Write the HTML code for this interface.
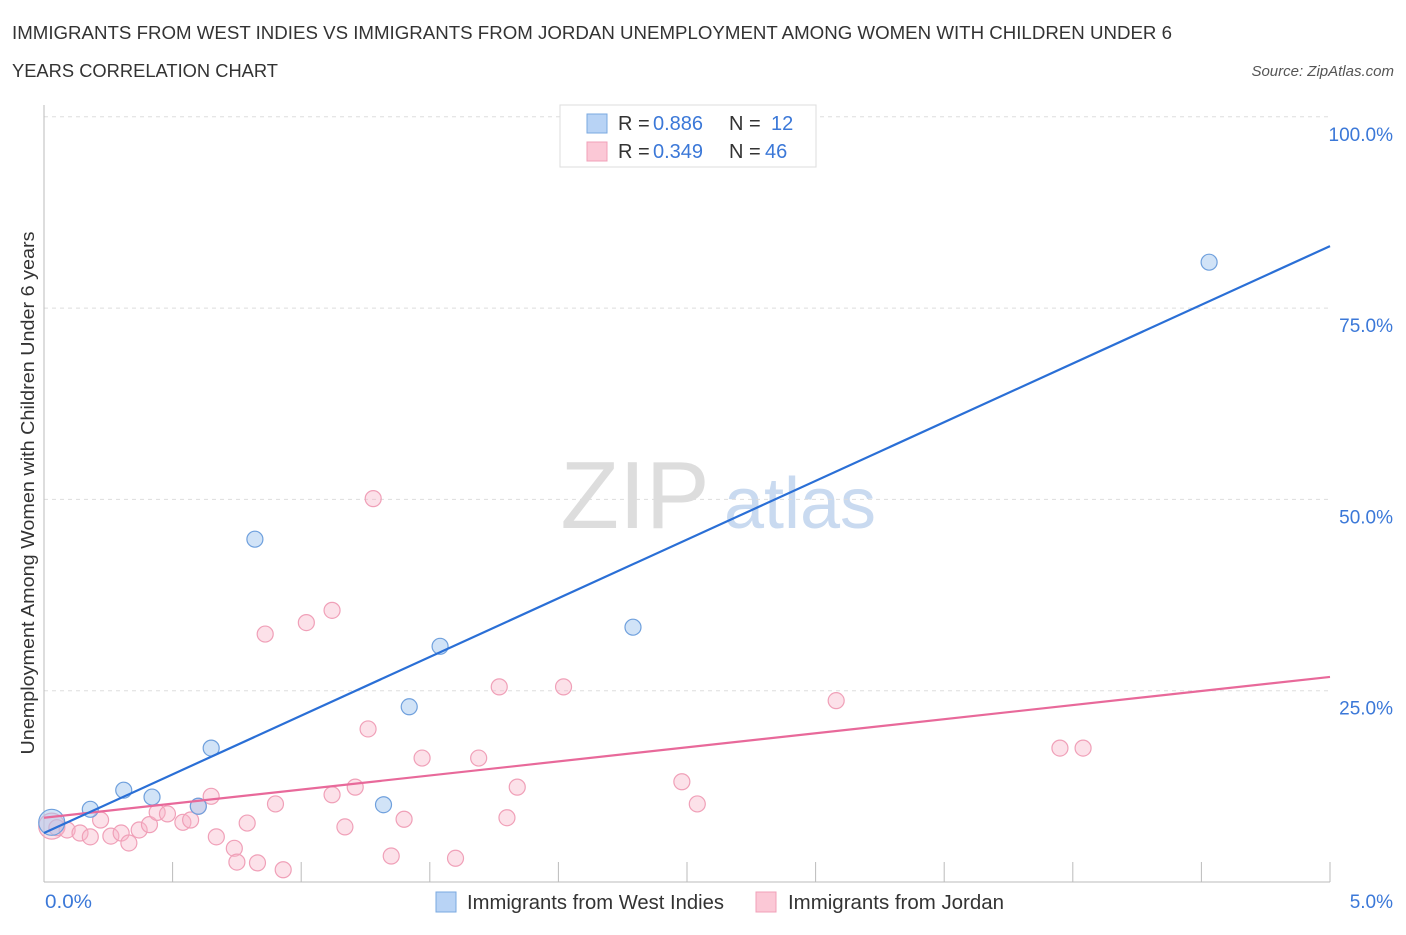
<!DOCTYPE html>
<html><head><meta charset="utf-8"><style>
body{margin:0;background:#fff;font-family:"Liberation Sans",sans-serif;}
svg text{font-family:"Liberation Sans",sans-serif;}
</style></head><body>
<svg id="c" width="1406" height="930" xmlns="http://www.w3.org/2000/svg">
<text x="12" y="39" font-size="18" fill="#333" textLength="1160" lengthAdjust="spacingAndGlyphs">IMMIGRANTS FROM WEST INDIES VS IMMIGRANTS FROM JORDAN UNEMPLOYMENT AMONG WOMEN WITH CHILDREN UNDER 6</text>
<text x="12" y="77" font-size="18" fill="#333" textLength="266" lengthAdjust="spacingAndGlyphs">YEARS CORRELATION CHART</text>
<text x="1394" y="76" font-size="15" fill="#555" font-style="italic" text-anchor="end">Source: ZipAtlas.com</text>
<text x="635" y="528" font-size="96" fill="#ddd" font-family="Liberation Serif" text-anchor="middle">ZIP</text>
<text x="800" y="528" font-size="72" fill="#c9daf0" text-anchor="middle">atlas</text>
<g id="grid"></g>
<g id="axes"></g>
<g id="marks"></g>
<text transform="translate(34,493) rotate(-90)" font-size="18" fill="#333" text-anchor="middle" textLength="523" lengthAdjust="spacingAndGlyphs">Unemployment Among Women with Children Under 6 years</text>
<text x="45" y="908" font-size="19" fill="#3b78d8" textLength="47" lengthAdjust="spacingAndGlyphs">0.0%</text>
<text x="1393" y="908" font-size="19" fill="#3b78d8" text-anchor="end">5.0%</text>
<g>
<rect x="436" y="892" width="20" height="20" fill="#b8d3f5" stroke="#7aa8e0"/>
<text x="467" y="909" font-size="20" fill="#333" textLength="257" lengthAdjust="spacingAndGlyphs">Immigrants from West Indies</text>
<rect x="756" y="892" width="20" height="20" fill="#fbc8d6" stroke="#f0a0b8"/>
<text x="788" y="909" font-size="20" fill="#333" textLength="216" lengthAdjust="spacingAndGlyphs">Immigrants from Jordan</text>
</g>
<g>
<rect x="560" y="105" width="256" height="62" fill="#fff" stroke="#ddd"/>
<rect x="587" y="114" width="20" height="19" fill="#b8d3f5" stroke="#7aa8e0"/>
<rect x="587" y="142" width="20" height="19" fill="#fbc8d6" stroke="#f0a0b8"/>
<text x="618" y="130" font-size="20" fill="#333">R = <tspan x="653" fill="#3b78d8">0.886</tspan><tspan x="729">N = </tspan><tspan x="771" fill="#3b78d8">12</tspan></text>
<text x="618" y="158" font-size="20" fill="#333">R = <tspan x="653" fill="#3b78d8">0.349</tspan><tspan x="729">N = </tspan><tspan x="765" fill="#3b78d8">46</tspan></text>
</g>
</svg>
<script>
const blueX=[0.03,0.18,0.31,0.42,0.60,0.65,0.82,1.32,1.42,1.54,2.29,4.53];
const blueY=[7.8,9.5,12.0,11.1,9.9,17.5,44.8,10.1,22.9,30.8,33.3,81.0];
const pinkX=[0.03,0.05,0.09,0.14,0.18,0.22,0.26,0.30,0.33,0.37,0.41,0.44,0.48,0.54,0.57,0.60,0.65,0.67,0.74,0.75,0.79,0.83,0.86,0.90,0.93,1.02,1.12,1.12,1.17,1.21,1.26,1.28,1.35,1.40,1.47,1.60,1.69,1.77,1.80,1.84,2.02,2.48,2.54,3.08,3.95,4.04];
const pinkY=[7.3,7.1,6.8,6.4,5.9,8.1,6.0,6.4,5.1,6.8,7.5,9.1,8.9,7.8,8.1,9.9,11.2,5.9,4.4,2.6,7.7,2.5,32.4,10.2,1.6,33.9,35.5,11.4,7.2,12.4,20.0,50.1,3.4,8.2,16.2,3.1,16.2,25.5,8.4,12.4,25.5,13.1,10.2,23.7,17.5,17.5];
const trendX=[0,5];
const blueTrend=[6.4,83.1];
const pinkTrend=[8.4,26.8];
const yTicks=[25,50,75,100];
const yTickLabels=["25.0%","50.0%","75.0%","100.0%"];
const xTicks=[0.5,1,1.5,2,2.5,3,3.5,4,4.5,5];
const NS="http://www.w3.org/2000/svg";
const X=v=>44+v*257.2, Y=v=>882-v*7.652;
function mk(tag,attrs,parent){const e=document.createElementNS(NS,tag);for(const k in attrs)e.setAttribute(k,attrs[k]);document.getElementById(parent).appendChild(e);return e;}
yTicks.forEach((t,i)=>{
 const g=mk('line',{x1:44,x2:1330,y1:Y(t),y2:Y(t),stroke:'#ddd','stroke-dasharray':'4,4'},'grid');
 
 
 const l=mk('text',{x:1393,y:Y(t)+24,'font-size':19,fill:'#3b78d8','text-anchor':'end'},'grid');
 l.textContent=yTickLabels[i];
 
 
});
let a=mk('line',{x1:44,x2:44,y1:105,y2:882,stroke:'#bbb'},'axes');


a=mk('line',{x1:44,x2:1330,y1:882,y2:882,stroke:'#bbb'},'axes');


xTicks.forEach(t=>{
 const e=mk('line',{x1:X(t),x2:X(t),y1:862,y2:882,stroke:'#bbb'},'axes');
 
 
});
function pts(xs,ys,fill,stroke,name){
 xs.forEach((x,i)=>{
  const e=mk('circle',{cx:X(x),cy:Y(ys[i]),r:i===0?13:8,fill:fill,stroke:stroke,'stroke-width':1.2},'marks');
  
  
 });
}
pts(pinkX,pinkY,'rgba(248,180,200,0.4)','#f0a0b8','point-jordan');
pts(blueX,blueY,'rgba(164,199,240,0.5)','#6fa0dd','point-west-indies');
let t=mk('line',{x1:X(trendX[0]),y1:Y(pinkTrend[0]),x2:X(trendX[1]),y2:Y(pinkTrend[1]),stroke:'#e8699a','stroke-width':2.2},'marks');


t=mk('line',{x1:X(trendX[0]),y1:Y(blueTrend[0]),x2:X(trendX[1]),y2:Y(blueTrend[1]),stroke:'#2a6fd6','stroke-width':2.2},'marks');


</script>
</body></html>
